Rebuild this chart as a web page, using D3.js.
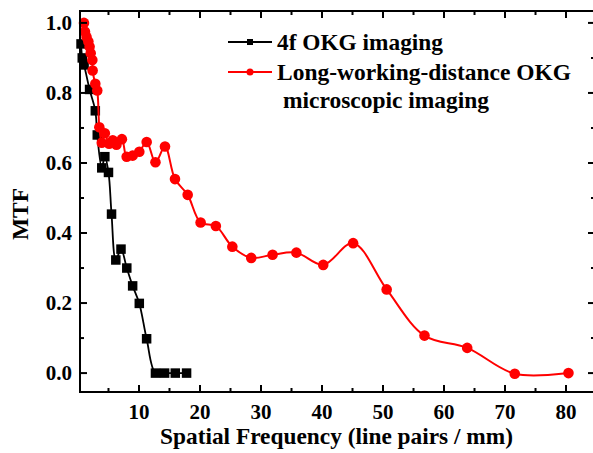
<!DOCTYPE html>
<html>
<head>
<meta charset="utf-8">
<script src="https://cdn.jsdelivr.net/npm/d3@7"></script>
<style>
  html, body { margin: 0; padding: 0; background: #fff; }
  svg { display: block; }
</style>
</head>
<body>
<div id="chart"></div>
<script>
// MTF curves
const okg4fX = [0.5, 0.7, 1.0, 1.9, 2.84, 3.16, 3.9, 4.4, 5.0, 5.5, 6.2, 7.05, 8.0, 8.96, 10.05, 11.25, 12.7, 14.2, 15.95, 17.8];
const okg4fY = [0.94, 0.90, 0.88, 0.81, 0.749, 0.68, 0.586, 0.618, 0.573, 0.454, 0.323, 0.354, 0.30, 0.249, 0.199, 0.098, 0.0, 0.0, 0.0, 0.0];

const longWdX = [0.98, 1.15, 1.4, 1.7, 1.9, 2.08, 2.35, 2.4, 2.84, 3.16, 3.5, 3.9, 4.4, 5.1, 5.7, 6.3, 7.2, 7.98, 8.96, 10.05, 11.26, 12.7, 14.26, 15.9, 17.98, 20.1, 22.6, 25.3, 28.4, 31.9, 35.8, 40.2, 45.1, 50.6, 56.8, 63.8, 71.6, 80.4];
const longWdY = [1.0, 0.975, 0.96, 0.947, 0.932, 0.913, 0.894, 0.864, 0.826, 0.807, 0.702, 0.658, 0.685, 0.655, 0.665, 0.652, 0.668, 0.618, 0.621, 0.632, 0.66, 0.602, 0.647, 0.554, 0.509, 0.43, 0.42, 0.361, 0.329, 0.338, 0.344, 0.309, 0.371, 0.239, 0.107, 0.072, -0.002, 0.0];

const xMajorTicks = [10, 20, 30, 40, 50, 60, 70, 80];
const xMinorTicks = [5, 15, 25, 35, 45, 55, 65, 75];
const yMajorTicks = [0.0, 0.2, 0.4, 0.6, 0.8, 1.0];
const yMinorTicks = [0.1, 0.3, 0.5, 0.7, 0.9];

const seriesNames = ['4f OKG imaging', 'Long-working-distance OKG', 'microscopic imaging'];

const W = 593, H = 453;
const plot = { left: 80, right: 595, top: 11, bottom: 392 };
const font = '"Liberation Serif", "Times New Roman", serif';

const svg = d3.select('#chart').append('svg')
  .attr('width', W).attr('height', H)
  .attr('viewBox', `0 0 ${W} ${H}`);

const x = d3.scaleLinear().domain([0.33, 84.75]).range([plot.left, plot.right]);
const y = d3.scaleLinear().domain([-0.054, 1.034]).range([plot.bottom, plot.top]);

const line = d3.line()
  .x(d => x(d[0]))
  .y(d => y(d[1]))
  .curve(d3.curveCatmullRom.alpha(0.5));

const black = d3.zip(okg4fX, okg4fY);
const red = d3.zip(longWdX, longWdY);

svg.append('path')
  .attr('d', line(black))
  .attr('fill', 'none')
  .attr('stroke', '#000')
  .attr('stroke-width', 1.8);

svg.selectAll('rect.pt')
  .data(black)
  .join('rect')
  .attr('class', 'pt')
  .attr('x', d => x(d[0]) - 4.75)
  .attr('y', d => y(d[1]) - 4.75)
  .attr('width', 9.5).attr('height', 9.5)
  .attr('fill', '#000');

// red drawn over black, as in the figure
svg.append('path')
  .attr('d', line(red))
  .attr('fill', 'none')
  .attr('stroke', '#ff0000')
  .attr('stroke-width', 2);

svg.selectAll('circle.pt')
  .data(red)
  .join('circle')
  .attr('class', 'pt')
  .attr('cx', d => x(d[0]))
  .attr('cy', d => y(d[1]))
  .attr('r', 5.3)
  .attr('fill', '#ff0000');

// Frame
svg.append('rect')
  .attr('x', plot.left).attr('y', plot.top)
  .attr('width', plot.right - plot.left)
  .attr('height', plot.bottom - plot.top)
  .attr('fill', 'none').attr('stroke', '#000').attr('stroke-width', 2);

// Inward ticks on all four sides
const ticks = svg.append('g').attr('stroke', '#000').attr('stroke-width', 2);
const majLen = 7, minLen = 4;
xMajorTicks.concat(xMinorTicks).forEach(v => {
  const len = xMajorTicks.includes(v) ? majLen : minLen;
  ticks.append('line').attr('x1', x(v)).attr('x2', x(v))
    .attr('y1', plot.bottom).attr('y2', plot.bottom - len);
  ticks.append('line').attr('x1', x(v)).attr('x2', x(v))
    .attr('y1', plot.top).attr('y2', plot.top + len);
});
yMajorTicks.concat(yMinorTicks).forEach(v => {
  const len = yMajorTicks.includes(v) ? majLen : minLen;
  ticks.append('line').attr('y1', y(v)).attr('y2', y(v))
    .attr('x1', plot.left).attr('x2', plot.left + len);
  ticks.append('line').attr('y1', y(v)).attr('y2', y(v))
    .attr('x1', plot.right).attr('x2', plot.right - len);
});

// Tick labels
svg.append('g')
  .selectAll('text')
  .data(xMajorTicks)
  .join('text')
  .attr('x', d => x(d))
  .attr('y', 419)
  .attr('text-anchor', 'middle')
  .attr('font-family', font).attr('font-weight', 'bold').attr('font-size', '21px')
  .text(d => d);

svg.append('g')
  .selectAll('text')
  .data(yMajorTicks)
  .join('text')
  .attr('x', 72)
  .attr('y', d => y(d) + 7)
  .attr('text-anchor', 'end')
  .attr('font-family', font).attr('font-weight', 'bold').attr('font-size', '21px')
  .text(d => d.toFixed(1));

// Axis titles
svg.append('text')
  .attr('x', 160).attr('y', 444)
  .attr('textLength', 353).attr('lengthAdjust', 'spacingAndGlyphs')
  .attr('font-family', font).attr('font-weight', 'bold').attr('font-size', '23px')
  .text('Spatial Frequency (line pairs / mm)');

svg.append('text')
  .attr('transform', 'translate(28, 240) rotate(-90)')
  .attr('textLength', 52).attr('lengthAdjust', 'spacingAndGlyphs')
  .attr('font-family', font).attr('font-weight', 'bold').attr('font-size', '23px')
  .text('MTF');

// Legend
const legend = svg.append('g').attr('font-family', font).attr('font-weight', 'bold').attr('font-size', '23.5px');
legend.append('line').attr('x1', 228).attr('x2', 272).attr('y1', 42).attr('y2', 42)
  .attr('stroke', '#000').attr('stroke-width', 1.8);
legend.append('rect').attr('x', 247).attr('y', 39).attr('width', 6).attr('height', 6).attr('fill', '#000');
legend.append('text').attr('x', 277).attr('y', 50)
  .attr('textLength', 166).attr('lengthAdjust', 'spacingAndGlyphs').text(seriesNames[0]);

legend.append('line').attr('x1', 228).attr('x2', 272).attr('y1', 72).attr('y2', 72)
  .attr('stroke', '#ff0000').attr('stroke-width', 1.8);
legend.append('circle').attr('cx', 250).attr('cy', 72).attr('r', 3.5).attr('fill', '#ff0000');
legend.append('text').attr('x', 277).attr('y', 80)
  .attr('textLength', 294).attr('lengthAdjust', 'spacingAndGlyphs').text(seriesNames[1]);
legend.append('text').attr('x', 283).attr('y', 108)
  .attr('textLength', 206).attr('lengthAdjust', 'spacingAndGlyphs').text(seriesNames[2]);
</script>
</body>
</html>
